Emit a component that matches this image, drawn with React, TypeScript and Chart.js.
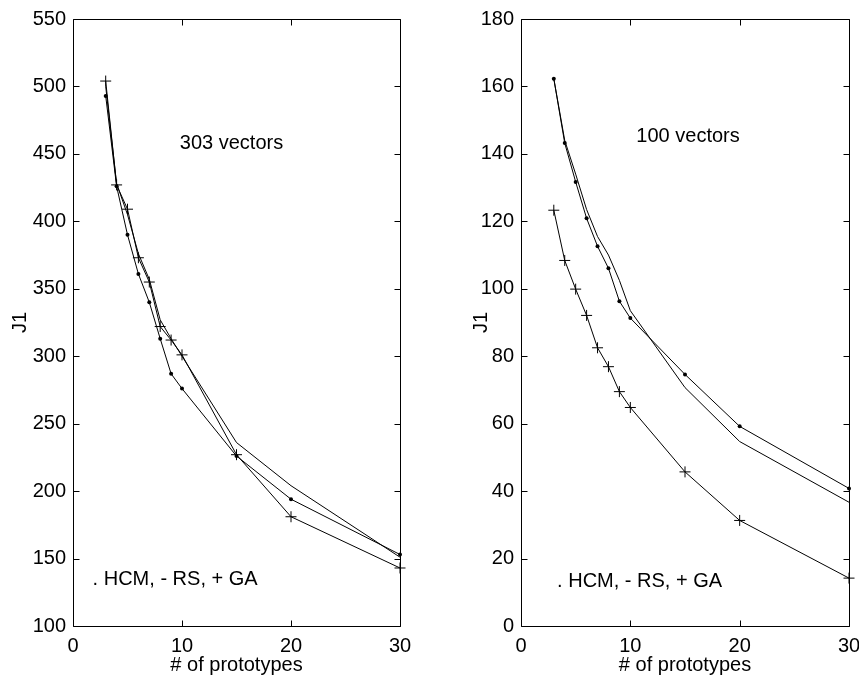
import React, { useEffect, useRef } from "react";
import { Chart, registerables } from "chart.js";

Chart.register(...registerables);

// ---- data ----
const prototypes = [3, 4, 5, 6, 7, 8, 9, 10, 15, 20, 30];

// 303 vectors panel
const hcm303 = [493, 426, 390, 361, 340, 313, 287, 276, 226, 194, 153];
const rs303 = [500, 428, 405, 376, 357, 327, 313, 300, 236, 204, 151];
const ga303 = [504, 427, 409, 373, 355, 322, 312, 301, 227, 181, 143];

// 100 vectors panel
const hcm100 = [162.3, 143.2, 131.7, 120.9, 112.6, 106.1, 96.3, 91.3, 74.6, 59.2, 40.8];
const rs100 = [162.3, 144, 134, 123.5, 115.5, 110, 102.5, 93.5, 70.7, 54.7, 36.7];
const ga100 = [123.3, 108.4, 99.9, 92.1, 82.5, 76.9, 69.5, 64.8, 45.7, 31.3, 14.2];

const xTicks = [0, 10, 20, 30];
const yTicks303 = [100, 150, 200, 250, 300, 350, 400, 450, 500, 550];
const yTicks100 = [0, 20, 40, 60, 80, 100, 120, 140, 160, 180];

const xTitle = "# of prototypes";
const yTitle = "J1";
const legendNote = ". HCM, - RS, + GA";
const title303 = "303 vectors";
const title100 = "100 vectors";

const FONT_FAMILY = "'Liberation Sans', Arial, Helvetica, sans-serif";
const FONT_SIZE = 20;

type Note = { text: string; x: number; y: number };

type Panel = {
  hcm: number[];
  rs: number[];
  ga: number[];
  yTicks: number[];
  notes: Note[];
  yAxisWidth: number;
  padRight: number;
  yTitlePad: number;
};

function boxPlugin() {
  return {
    id: "matlabBox",
    afterDraw(chart: any) {
      const { ctx, chartArea } = chart;
      const { left, right, top, bottom } = chartArea;
      const xs = chart.scales.x;
      const ys = chart.scales.y;
      const tl = 6;
      ctx.save();
      ctx.strokeStyle = "#000";
      ctx.lineWidth = 1;
      ctx.beginPath();
      ctx.rect(left + 0.5, top + 0.5, right - left, bottom - top);
      for (const t of xs.ticks) {
        const px = Math.round(xs.getPixelForValue(t.value)) + 0.5;
        ctx.moveTo(px, bottom + 0.5);
        ctx.lineTo(px, bottom + 0.5 - tl);
        ctx.moveTo(px, top + 0.5);
        ctx.lineTo(px, top + 0.5 + tl);
      }
      for (const t of ys.ticks) {
        const py = Math.round(ys.getPixelForValue(t.value)) + 0.5;
        ctx.moveTo(left + 0.5, py);
        ctx.lineTo(left + 0.5 + tl, py);
        ctx.moveTo(right + 0.5, py);
        ctx.lineTo(right + 0.5 - tl, py);
      }
      ctx.stroke();
      ctx.restore();
    },
  };
}

function notesPlugin(notes: Note[]) {
  return {
    id: "notes",
    afterDraw(chart: any) {
      const { ctx } = chart;
      const xs = chart.scales.x;
      const ys = chart.scales.y;
      ctx.save();
      ctx.fillStyle = "#000";
      ctx.font = `${FONT_SIZE}px ${FONT_FAMILY}`;
      ctx.textAlign = "left";
      ctx.textBaseline = "middle";
      for (const n of notes) {
        ctx.fillText(n.text, xs.getPixelForValue(n.x), ys.getPixelForValue(n.y));
      }
      ctx.restore();
    },
  };
}

function makeConfig(p: Panel): any {
  const pts = (ys: number[]) => prototypes.map((x, i) => ({ x, y: ys[i] }));
  const font = { family: FONT_FAMILY, size: FONT_SIZE };
  const yMin = p.yTicks[0];
  const yMax = p.yTicks[p.yTicks.length - 1];
  return {
    type: "line",
    data: {
      datasets: [
        {
          label: "HCM",
          data: pts(p.hcm),
          borderColor: "#000",
          borderWidth: 1,
          pointStyle: "circle",
          pointRadius: 2,
          pointBackgroundColor: "#000",
          pointBorderColor: "#000",
          pointBorderWidth: 0,
          tension: 0,
          clip: false,
        },
        {
          label: "RS",
          data: pts(p.rs),
          borderColor: "#000",
          borderWidth: 1,
          pointRadius: 0,
          tension: 0,
          clip: false,
        },
        {
          label: "GA",
          data: pts(p.ga),
          borderColor: "#000",
          borderWidth: 1,
          pointStyle: "cross",
          pointRadius: 5.5,
          pointBorderColor: "#000",
          pointBorderWidth: 1,
          tension: 0,
          clip: false,
        },
      ],
    },
    options: {
      responsive: false,
      animation: false,
      events: [],
      layout: { padding: { top: 15, right: p.padRight, left: 0, bottom: 0 } },
      plugins: {
        legend: { display: false },
        tooltip: { enabled: false },
      },
      scales: {
        x: {
          type: "linear",
          position: "bottom",
          min: 0,
          max: 30,
          afterBuildTicks: (s: any) => {
            s.ticks = xTicks.map((v) => ({ value: v }));
          },
          afterFit: (s: any) => {
            s.height = 52;
          },
          grid: { display: false, drawTicks: false },
          border: { display: false },
          ticks: {
            color: "#000",
            font,
            padding: 8,
            maxRotation: 0,
            autoSkip: false,
          },
          title: {
            display: true,
            text: xTitle,
            color: "#000",
            font,
            padding: { top: 0, bottom: 1 },
          },
        },
        y: {
          type: "linear",
          position: "left",
          min: yMin,
          max: yMax,
          afterBuildTicks: (s: any) => {
            s.ticks = p.yTicks.map((v) => ({ value: v }));
          },
          afterFit: (s: any) => {
            s.width = p.yAxisWidth;
          },
          grid: { display: false, drawTicks: false },
          border: { display: false },
          ticks: {
            color: "#000",
            font,
            padding: 7,
            autoSkip: false,
          },
          title: {
            display: true,
            text: yTitle,
            color: "#000",
            font,
            padding: { top: p.yTitlePad, bottom: 0 },
          },
        },
      },
    },
    plugins: [boxPlugin(), notesPlugin(p.notes)],
  };
}

const leftPanel: Panel = {
  hcm: hcm303,
  rs: rs303,
  ga: ga303,
  yTicks: yTicks303,
  notes: [
    { text: title303, x: 9.8, y: 458 },
    { text: legendNote, x: 1.8, y: 134.5 },
  ],
  yAxisWidth: 73,
  padRight: 30,
  yTitlePad: 8,
};

const rightPanel: Panel = {
  hcm: hcm100,
  rs: rs100,
  ga: ga100,
  yTicks: yTicks100,
  notes: [
    { text: title100, x: 10.55, y: 145.3 },
    { text: legendNote, x: 3.3, y: 13.3 },
  ],
  yAxisWidth: 91,
  padRight: 21,
  yTitlePad: 39,
};

function PanelChart({ panel, left, width }: { panel: Panel; left: number; width: number }) {
  const ref = useRef<HTMLCanvasElement | null>(null);
  useEffect(() => {
    if (!ref.current) return;
    const chart = new Chart(ref.current, makeConfig(panel));
    return () => chart.destroy();
  }, [panel]);
  return (
    <canvas
      ref={ref}
      width={width}
      height={678}
      style={{ position: "absolute", left, top: 0, width, height: 678 }}
    />
  );
}

export default function App() {
  return (
    <div
      style={{
        position: "fixed",
        left: 0,
        top: 0,
        width: 859,
        height: 678,
        overflow: "hidden",
        background: "#fff",
      }}
    >
      <PanelChart panel={leftPanel} left={0} width={430} />
      <PanelChart panel={rightPanel} left={430} width={440} />
    </div>
  );
}
